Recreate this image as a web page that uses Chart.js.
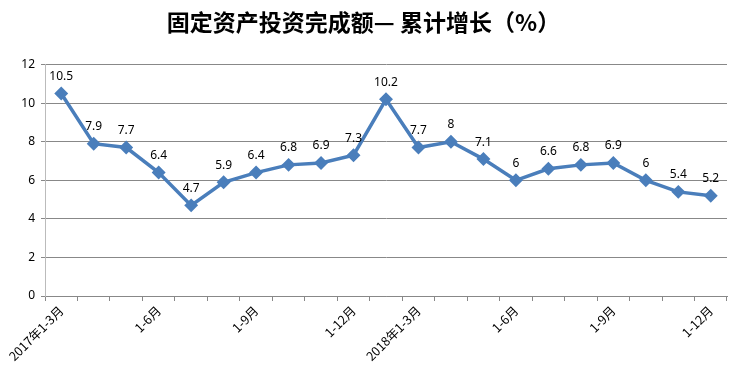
<!DOCTYPE html>
<html>
<head>
<meta charset="utf-8">
<script src="https://cdn.jsdelivr.net/npm/chart.js@4"></script>
<style>
html,body{margin:0;padding:0;background:#fff;}
#wrap{width:742px;height:382px;}
</style>
</head>
<body>
<div id="wrap"><canvas id="c" width="742" height="382"></canvas></div>
<script>
const categories = ['2017年1-3月','2017年1-4月','2017年1-5月','2017年1-6月','2017年1-7月','2017年1-8月','2017年1-9月','2017年1-10月','2017年1-11月','2017年1-12月','2018年1-2月','2018年1-3月','2018年1-4月','2018年1-5月','2018年1-6月','2018年1-7月','2018年1-8月','2018年1-9月','2018年1-10月','2018年1-11月','2018年1-12月'];
const values = [10.5, 7.9, 7.7, 6.4, 4.7, 5.9, 6.4, 6.8, 6.9, 7.3, 10.2, 7.7, 8, 7.1, 6, 6.6, 6.8, 6.9, 6, 5.4, 5.2];
const tickLabels = ['2017年1-3月','','','1-6月','','','1-9月','','','1-12月','','2018年1-3月','','','1-6月','','','1-9月','','','1-12月'];
const yTicks = [0, 2, 4, 6, 8, 10, 12];
const titleText = '固定资产投资完成额— 累计增长（%）';

const dataLabelPlugin = {
  id: 'dataLabels',
  afterDatasetsDraw(chart) {
    const ctx = chart.ctx;
    chart.data.datasets.forEach((ds, di) => {
      const meta = chart.getDatasetMeta(di);
      meta.data.forEach((pt, i) => {
        ctx.save();
        ctx.font = '12px "Noto Sans", "DejaVu Sans", sans-serif';
        ctx.fillStyle = '#000';
        ctx.textAlign = 'center';
        ctx.textBaseline = 'middle';
        ctx.fillText(String(ds.data[i]), pt.x, pt.y - 17);
        ctx.restore();
      });
    });
  }
};

new Chart(document.getElementById('c'), {
  type: 'line',
  data: {
    labels: categories,
    datasets: [{
      data: values,
      borderColor: '#4a7ebb',
      backgroundColor: '#4a7ebb',
      borderWidth: 3.5,
      pointStyle: 'rectRot',
      pointRadius: 4.5,
      pointHoverRadius: 4.5,
      tension: 0,
      fill: false
    }]
  },
  options: {
    responsive: false,
    animation: false,
    layout: { padding: { left: 0, right: 15, top: 0, bottom: 0 } },
    plugins: {
      legend: { display: false },
      tooltip: { enabled: false },
      title: {
        display: true,
        text: titleText,
        color: '#000',
        font: { family: '"Noto Sans CJK SC", sans-serif', size: 23, weight: 'bold', lineHeight: 1.2 },
        padding: { top: 8, bottom: 29 }
      }
    },
    scales: {
      x: {
        type: 'category',
        offset: true,
        grid: { display: true, drawOnChartArea: false, offset: true, tickLength: 5, color: '#888' },
        border: { color: '#888' },
        ticks: {
          autoSkip: false,
          maxRotation: 45,
          minRotation: 45,
          color: '#000',
          padding: 2,
          font: { family: '"Noto Sans CJK SC", sans-serif', size: 12.5 },
          callback: (v, i) => tickLabels[i]
        },
        afterFit(scale) { scale.height = 86; }
      },
      y: {
        min: 0,
        max: 12,
        afterBuildTicks(scale) { scale.ticks = yTicks.map(v => ({ value: v })); },
        grid: { color: '#888', tickLength: 4 },
        border: { color: '#bbb' },
        ticks: {
          color: '#000',
          padding: 6,
          font: { family: '"Noto Sans", sans-serif', size: 12 }
        },
        afterFit(scale) { scale.width = 45; }
      }
    }
  },
  plugins: [dataLabelPlugin]
});
</script>
</body>
</html>
